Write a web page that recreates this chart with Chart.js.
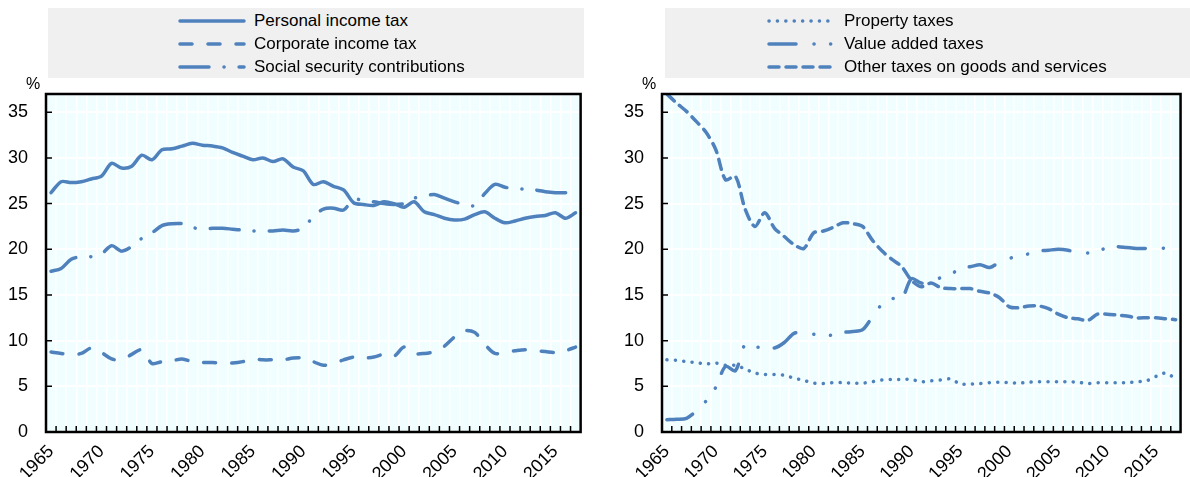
<!DOCTYPE html>
<html lang="en">
<head>
<meta charset="UTF-8" />
<title>Tax structure trends</title>
<script src="https://cdn.jsdelivr.net/npm/chart.js"></script>
<style>
  body {
    margin: 0;
    width: 1190px;
    height: 477px;
    overflow: hidden;
    background: #ffffff;
    font-family: "Liberation Sans", Arial, sans-serif;
    position: relative;
  }
  .panel {
    position: absolute;
    top: 0;
    width: 600px;
    height: 477px;
  }
  .panel canvas {
    position: absolute;
    left: 0;
    top: 0;
  }
  .legend {
    position: absolute;
    top: 8px;
    height: 70px;
    background: #f0f0f0;
    z-index: 2;
  }
  .legend-row {
    position: absolute;
    height: 23px;
    display: flex;
    align-items: center;
    font-size: 17px;
    color: #000;
    white-space: nowrap;
  }
</style>
</head>
<body>
<div class="panel" style="left:0px">
  <div class="legend" id="legendLeft" style="left:48px;width:536px"></div>
  <canvas id="chartLeft" width="600" height="477"></canvas>
</div>
<div class="panel" style="left:600px">
  <div class="legend" id="legendRight" style="left:65px;width:540px"></div>
  <canvas id="chartRight" width="600" height="477"></canvas>
</div>

<script>
  const years = [
    1965, 1966, 1967, 1968, 1969, 1970, 1971, 1972, 1973, 1974,
    1975, 1976, 1977, 1978, 1979, 1980, 1981, 1982, 1983, 1984,
    1985, 1986, 1987, 1988, 1989, 1990, 1991, 1992, 1993, 1994,
    1995, 1996, 1997, 1998, 1999, 2000, 2001, 2002, 2003, 2004,
    2005, 2006, 2007, 2008, 2009, 2010, 2011, 2012, 2013, 2014,
    2015, 2016, 2017
  ];

  // left panel
  const personalIncomeTax = [
    26.2, 27.4, 27.3, 27.4, 27.7, 28.0, 29.4, 28.9, 29.1, 30.3,
    29.8, 30.9, 31.0, 31.3, 31.6, 31.4, 31.3, 31.1, 30.6, 30.2,
    29.8, 30.0, 29.6, 29.9, 29.0, 28.6, 27.1, 27.4, 26.9, 26.5,
    25.1, 24.9, 24.8, 25.2, 25.0, 24.6, 25.2, 24.1, 23.8, 23.4,
    23.2, 23.3, 23.8, 24.1, 23.4, 22.9, 23.1, 23.4, 23.6, 23.7,
    24.0, 23.4, 24.0
  ];
  const corporateIncomeTax = [
    8.75, 8.6, 8.5, 8.6, 9.2, 8.7, 8.0, 7.9, 8.5, 9.0,
    7.5, 7.7, 7.8, 8.0, 7.7, 7.6, 7.6, 7.55, 7.55, 7.7,
    8.0, 7.9, 7.9, 7.9, 8.1, 8.1, 7.7, 7.3, 7.5, 7.9,
    8.2, 8.1, 8.2, 8.5, 8.3, 9.3, 8.6, 8.6, 8.8, 9.4,
    10.4, 11.1, 10.9, 9.6, 8.6, 8.75, 8.9, 9.0, 8.9, 8.8,
    8.7, 8.9, 9.3
  ];
  const socialSecurity = [
    17.6, 17.9, 18.9, 19.2, 19.2, 19.5, 20.4, 19.8, 20.3, 21.2,
    21.8, 22.6, 22.8, 22.8, 22.4, 22.2, 22.3, 22.3, 22.2, 22.1,
    22.0, 22.0, 22.0, 22.1, 22.0, 22.3, 23.6, 24.4, 24.5, 24.3,
    25.5, 25.3, 25.2, 25.0, 24.9, 25.0, 25.6, 25.8, 26.0, 25.6,
    25.2, 24.9, 24.8, 26.1, 27.1, 26.8, 26.6, 26.6, 26.5, 26.3,
    26.2, 26.2, 26.1
  ];

  // right panel
  const propertyTaxes = [
    7.9, 7.85, 7.7, 7.6, 7.45, 7.55, 7.3, 7.3, 6.9, 6.45,
    6.3, 6.3, 6.2, 5.9, 5.65, 5.35, 5.3, 5.4, 5.4, 5.35,
    5.35, 5.5, 5.7, 5.75, 5.75, 5.75, 5.5, 5.6, 5.7, 5.8,
    5.25, 5.25, 5.3, 5.4, 5.45, 5.4, 5.35, 5.45, 5.5, 5.5,
    5.5, 5.5, 5.45, 5.3, 5.4, 5.4, 5.4, 5.4, 5.5, 5.6,
    6.1, 6.45, 5.8
  ];
  const valueAddedTaxes = [
    1.35, 1.4, 1.5, 2.3, 3.4, 4.9, 7.2, 6.7, 9.6, 9.3,
    9.3, 9.2, 9.8, 10.8, 10.9, 10.7, 10.6, 10.6, 10.9, 11.0,
    11.2, 12.6, 14.0, 14.6, 14.6, 16.8, 16.3, 16.5, 16.9, 17.2,
    18.0, 18.1, 18.3, 18.0, 18.6, 19.0, 19.3, 19.5, 19.8, 19.9,
    20.0, 19.9, 19.6, 19.6, 19.6, 20.3, 20.3, 20.2, 20.1, 20.1,
    20.2, 20.1, 20.1
  ];
  const otherGoodsServices = [
    37.0, 36.0, 35.1, 34.0, 32.8, 30.9, 27.6, 28.0, 24.4, 22.5,
    24.0, 22.3, 21.4, 20.5, 20.1, 21.8, 22.0, 22.4, 22.9, 22.8,
    22.5, 21.0, 19.8, 18.9, 18.1, 16.6, 15.9, 16.3, 15.8, 15.7,
    15.7, 15.7, 15.4, 15.2, 14.7, 13.7, 13.6, 13.8, 13.8, 13.5,
    12.9, 12.5, 12.4, 12.2, 12.9, 12.9, 12.8, 12.7, 12.5, 12.5,
    12.5, 12.4, 12.3
  ];

  const lineBlue = "#4f81bd";
  const plotFill = "#f0feff";
  const fontStack = '"Liberation Sans", Arial, sans-serif';

  Chart.defaults.font.family = fontStack;
  Chart.defaults.font.size = 18;
  Chart.defaults.color = "#000";

  const leftSeries = [
    { label: "Personal income tax", data: personalIncomeTax, dash: [] },
    { label: "Corporate income tax", data: corporateIncomeTax, dash: [12, 16] },
    { label: "Social security contributions", data: socialSecurity, dash: [29, 15, 0.1, 15] },
  ];
  const rightSeries = [
    { label: "Property taxes", data: propertyTaxes, dash: [0.1, 8.3] },
    { label: "Value added taxes", data: valueAddedTaxes, dash: [27, 18, 0.1, 16.5, 0.1, 16] },
    { label: "Other taxes on goods and services", data: otherGoodsServices, dash: [10, 7] },
  ];

  // plot background, black frame, inside ticks and the % unit
  const framePlugin = {
    id: "frame",
    beforeDraw(chart) {
      const { ctx, chartArea: a } = chart;
      ctx.save();
      ctx.fillStyle = plotFill;
      ctx.fillRect(a.left, a.top, a.right - a.left, a.bottom - a.top);
      ctx.restore();
    },
    afterDraw(chart) {
      const { ctx, chartArea: a, scales } = chart;
      const xs = scales.x;
      const ys = scales.y;
      const step = xs.getPixelForTick(1) - xs.getPixelForTick(0);
      ctx.save();
      ctx.strokeStyle = "#000";
      ctx.lineWidth = 1.5;
      ctx.beginPath();
      for (let i = 1; i < xs.ticks.length; i++) {
        const px = xs.getPixelForTick(i) - step / 2;
        ctx.moveTo(px, a.bottom);
        ctx.lineTo(px, a.bottom - 6);
      }
      ys.ticks.forEach((t) => {
        const py = ys.getPixelForValue(t.value);
        ctx.moveTo(a.left, py);
        ctx.lineTo(a.left + 6, py);
      });
      ctx.stroke();
      ctx.lineWidth = 2.5;
      ctx.strokeRect(a.left, a.top, a.right - a.left, a.bottom - a.top);
      ctx.font = "16px " + fontStack;
      ctx.fillStyle = "#000";
      ctx.textAlign = "center";
      ctx.textBaseline = "bottom";
      ctx.fillText("%", a.left - 13, a.top - 1);
      ctx.restore();
    },
  };

  function makeChart(canvasId, series, axisWidth, padRight) {
    return new Chart(document.getElementById(canvasId), {
      type: "line",
      data: {
        labels: years,
        datasets: series.map((s) => ({
          label: s.label,
          data: s.data,
          borderColor: lineBlue,
          borderWidth: 3.5,
          borderDash: s.dash,
          borderCapStyle: "round",
          borderJoinStyle: "round",
          pointRadius: 0,
          tension: 0.3,
          fill: false,
        })),
      },
      options: {
        responsive: false,
        animation: false,
        events: [],
        layout: { padding: { top: 94, right: padRight, left: 0, bottom: 0 } },
        plugins: {
          legend: { display: false },
          tooltip: { enabled: false },
        },
        scales: {
          x: {
            offset: true,
            grid: { offset: true, color: "#ffffff", lineWidth: 1.5, drawTicks: false },
            border: { display: false },
            ticks: {
              autoSkip: false,
              minRotation: 45,
              maxRotation: 45,
              padding: 9,
              callback: (value, index) => (years[index] % 5 === 0 ? String(years[index]) : ""),
            },
            afterFit: (scale) => {
              scale.height = 45;
            },
          },
          y: {
            min: 0,
            max: 37,
            grid: { color: "#ffffff", lineWidth: 2, drawTicks: false },
            border: { display: false },
            ticks: { stepSize: 5, includeBounds: false, padding: 18 },
            afterFit: (scale) => {
              scale.width = axisWidth;
            },
          },
        },
      },
      plugins: [framePlugin],
    });
  }

  function buildLegend(boxId, series, sampleLeft, sampleWidth, textGap) {
    const box = document.getElementById(boxId);
    series.forEach((s, i) => {
      const row = document.createElement("div");
      row.className = "legend-row";
      row.style.left = sampleLeft + "px";
      row.style.top = (1 + i * 23.3) + "px";
      const dash = s.dash.length ? s.dash.join(" ") : "none";
      row.innerHTML =
        '<svg width="' + sampleWidth + '" height="10" style="margin-right:' + textGap + 'px">' +
        '<line x1="2" y1="5" x2="' + (sampleWidth - 2) + '" y2="5" stroke="' + lineBlue +
        '" stroke-width="3.5" stroke-linecap="round" stroke-dasharray="' + dash + '"/></svg>' +
        "<span>" + s.label + "</span>";
      box.appendChild(row);
    });
  }

  makeChart("chartLeft", leftSeries, 46, 16);
  makeChart("chartRight", rightSeries, 62, 6);
  buildLegend("legendLeft", leftSeries, 130, 68, 8);
  buildLegend("legendRight", rightSeries, 102, 68, 9);
</script>
</body>
</html>
